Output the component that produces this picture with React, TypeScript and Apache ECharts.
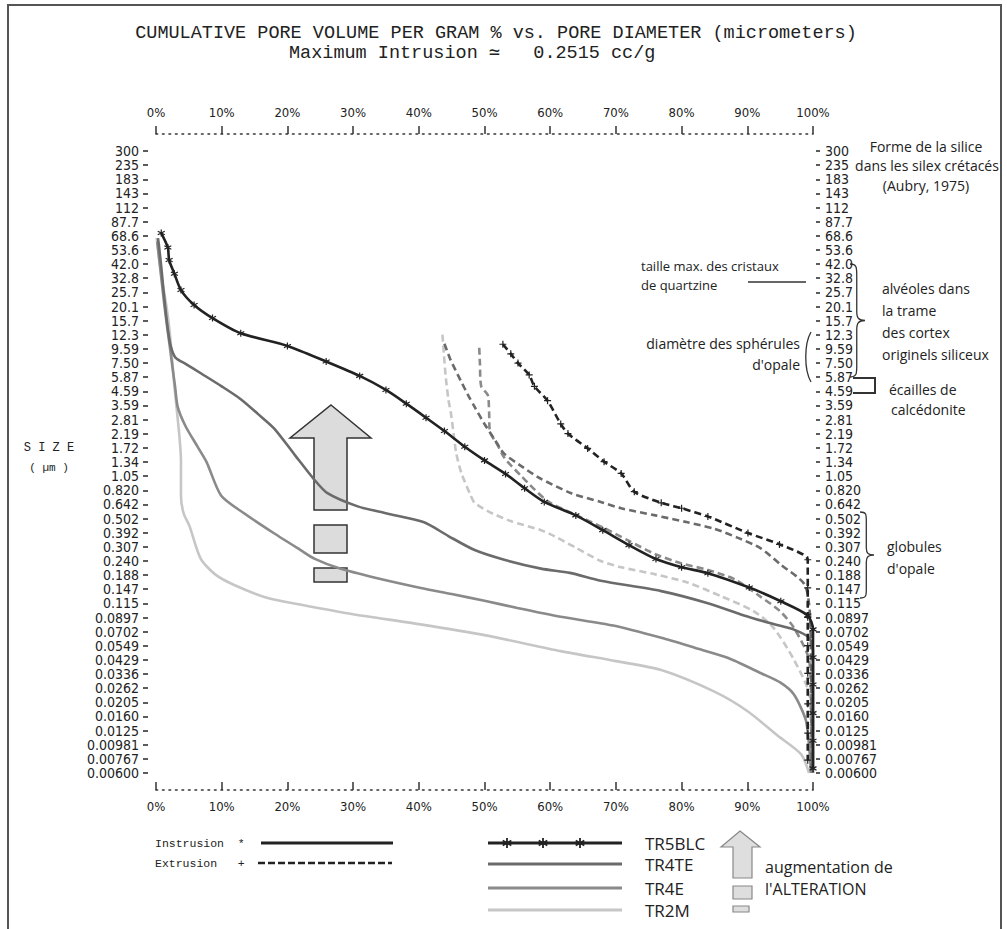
import React, { useEffect, useRef } from "react";
import * as echarts from "echarts";

// ---------- tick labels ----------
const SIZE_TICKS = ["300","235","183","143","112","87.7","68.6","53.6","42.0","32.8","25.7","20.1","15.7","12.3","9.59","7.50","5.87","4.59","3.59","2.81","2.19","1.72","1.34","1.05","0.820","0.642","0.502","0.392","0.307","0.240","0.188","0.147","0.115","0.0897","0.0702","0.0549","0.0429","0.0336","0.0262","0.0205","0.0160","0.0125","0.00981","0.00767","0.00600"];
const SIZE_MIN = 0.006;
const SIZE_MAX = 300;
const PCT_MIN = 0;
const PCT_MAX = 100;
const PCT_STEP = 10;

// ---------- series: [cumulative %, pore diameter µm] ----------
const TR5BLC_INTRUSION = [[0.8,72],[1.8,56],[2.0,45],[2.8,35.5],[3.8,26.7],[5.8,20.6],[8.6,16.4],[12.9,12.6],[20,10.1],[25.9,7.7],[31,6.0],[35,4.7],[38.1,3.7],[41.1,2.9],[43.9,2.3],[47,1.75],[50,1.38],[53.2,1.09],[56.1,0.85],[59.1,0.67],[63.9,0.53],[68,0.41],[72,0.316],[76.1,0.248],[80,0.215],[84,0.194],[90.3,0.151],[95.1,0.119],[99.2,0.093],[100,0.073],[100,0.045],[100,0.028],[100,0.017],[100,0.0105],[100,0.0065]];
const TR5BLC_EXTRUSION = [[52.8,10.4],[54,8.8],[55.1,7.5],[56.8,6.1],[57.6,5.0],[59.6,3.9],[61.6,2.6],[62.7,2.2],[65.7,1.7],[68.2,1.35],[70.8,1.1],[72.8,0.8],[76.9,0.66],[80,0.6],[84,0.52],[90.1,0.39],[94.9,0.32],[99.2,0.245],[99.2,0.15],[99.2,0.09],[99.2,0.055],[99.2,0.034],[99.2,0.02],[99.2,0.012],[99.2,0.0075]];
const TR4TE_INTRUSION = [[0.3,66],[0.5,55],[0.8,40],[1.1,28],[1.5,18],[1.9,12.5],[2.3,9.8],[3.0,8.2],[4.5,7.4],[7.0,6.2],[10,5.0],[12.9,4.0],[15.5,3.1],[18,2.4],[21.2,1.5],[24,1.0],[26.1,0.78],[30.7,0.62],[35,0.55],[40.8,0.47],[44.5,0.37],[48.5,0.29],[53,0.245],[58.6,0.21],[63,0.195],[67.7,0.17],[76.9,0.142],[84,0.115],[89.5,0.093],[94,0.08],[97.1,0.0727],[99.4,0.063],[100,0.05],[100,0.006]];
const TR4TE_EXTRUSION = [[43.9,10.5],[44.8,8],[46.4,5.5],[47.5,4.3],[48.5,3.5],[50,2.6],[51.5,2.0],[53,1.55],[55.6,1.25],[58.3,1.02],[63.2,0.78],[67.7,0.67],[70.8,0.6],[76,0.53],[80.9,0.47],[85,0.42],[88.5,0.36],[92,0.3],[95.1,0.225],[98.7,0.16],[99.5,0.1],[99.7,0.04],[99.8,0.015],[99.8,0.006]];
const TR4E_INTRUSION = [[0.2,62],[0.5,45],[0.9,30],[1.3,20],[1.7,14],[2.1,10],[2.5,7],[2.9,5],[3.3,3.5],[4.5,2.5],[6.3,1.76],[7.7,1.34],[9.9,0.75],[13.4,0.55],[17.9,0.39],[22,0.29],[24.1,0.25],[28,0.21],[33.2,0.18],[40.3,0.15],[45,0.135],[50,0.12],[55,0.106],[61.6,0.091],[69.6,0.078],[76.9,0.063],[82,0.053],[87,0.0445],[92.1,0.034],[95,0.029],[97.1,0.0235],[98.9,0.0151],[99.4,0.0097],[99.7,0.006]];
const TR4E_EXTRUSION = [[49.2,9.8],[49.3,7.5],[49.5,5.0],[50.5,4.3],[50.7,3.2],[50.8,2.3],[52,1.8],[53,1.45],[55.6,1.05],[59.6,0.68],[63.7,0.54],[68,0.43],[72,0.34],[76,0.27],[80,0.23],[84,0.205],[88,0.175],[92.1,0.128],[95,0.1],[97.1,0.075],[99.4,0.043],[99.7,0.02],[99.8,0.006]];
const TR2M_INTRUSION = [[0.1,66],[0.5,45],[1.0,30],[1.6,20],[2.0,14],[2.3,10],[2.6,6.5],[2.8,5],[3.2,3.2],[3.6,2.0],[3.8,1.38],[3.8,0.75],[4.2,0.55],[5.1,0.44],[6.8,0.25],[9,0.19],[11.9,0.158],[17,0.126],[22.1,0.112],[30,0.095],[40,0.08],[50,0.066],[61.6,0.05],[70,0.042],[76.9,0.036],[85,0.0247],[90.1,0.0175],[94.6,0.0115],[98.2,0.0083],[99.4,0.006]];
const TR2M_EXTRUSION = [[43.6,12.3],[43.8,9],[44.1,5.9],[44.5,4],[44.9,3.1],[45.3,2.2],[45.7,1.56],[46.5,1.1],[47.9,0.75],[48.5,0.66],[50.5,0.57],[54,0.48],[58.6,0.41],[60.6,0.37],[64,0.3],[67.7,0.24],[70.8,0.215],[76,0.19],[80.9,0.165],[86,0.13],[91,0.1],[94,0.075],[97.1,0.043],[99.4,0.024],[99.7,0.012],[99.8,0.006]];

const SAMPLES = ["TR5BLC", "TR4TE", "TR4E", "TR2M"];
const SAMPLE_COLORS = ["#222222", "#6b6b6b", "#8a8a8a", "#c6c6c6"];

const NARROW = '"Liberation Sans Narrow", "Arial Narrow", "DejaVu Sans Condensed", sans-serif';
const MONO = '"Liberation Mono", "DejaVu Sans Mono", monospace';
const HAND = '"Open Sans", "Noto Sans", sans-serif';

const N = SIZE_TICKS.length - 1;
const toY = (d: number) => (Math.log(d / SIZE_MIN) / Math.log(SIZE_MAX / SIZE_MIN)) * N;
const conv = (arr: number[][]) => arr.map(([p, d]) => [p, toY(d)]);

const STAR = "path://M5,0L5,10M0.67,2.5L9.33,7.5M0.67,7.5L9.33,2.5";
const PLUS = "path://M4,0L4,8M0,4L8,4";

function bracePath(h: number, w: number) {
  const m = w * 0.45;
  return `M0,0 C${m},0 ${m},${h * 0.03} ${m},${h * 0.1} L${m},${h * 0.42} C${m},${h * 0.48} ${m + 2},${h * 0.5} ${w},${h * 0.5} C${m + 2},${h * 0.5} ${m},${h * 0.52} ${m},${h * 0.58} L${m},${h * 0.9} C${m},${h * 0.97} ${m},${h} 0,${h}`;
}
echarts.graphic.registerShape("braceAlv", echarts.graphic.extendPath(bracePath(113, 15), {}));
echarts.graphic.registerShape("braceGlob", echarts.graphic.extendPath(bracePath(86, 14), {}));
echarts.graphic.registerShape("parenSph", echarts.graphic.extendPath("M8,0 C1,12 1,38 8,50", {}));
echarts.graphic.registerShape("asterisk", echarts.graphic.extendPath("M0,-5L0,5M-4.3,-2.5L4.3,2.5M-4.3,2.5L4.3,-2.5", {}));

function App() {
  const ref = useRef<HTMLDivElement>(null);
  useEffect(() => {
    if (!ref.current) return;
    const chart = echarts.init(ref.current, undefined, { renderer: "svg" });

    const line = (name: string, data: number[][], color: string, dashed: boolean, symbol?: string, z = 2) => ({
      name,
      type: "line",
      data: conv(data),
      smooth: 0.25,
      z,
      showSymbol: !!symbol,
      symbol: symbol || "none",
      symbolSize: 7,
      itemStyle: { color: color, borderColor: color, borderWidth: 1.2 },
      lineStyle: { color, width: 2.6, type: dashed ? [7, 4] : "solid" },
      emphasis: { disabled: true },
    });

    const txt = (text: string, x: number, y: number, size: number, font: string, align = "left", color = "#222") => ({
      type: "text",
      x,
      y,
      style: { text, fontSize: size, fontFamily: font, fill: color, align, verticalAlign: "middle" },
    });

    const axisLabelStyle = { fontFamily: NARROW, fontSize: 13, color: "#222" };
    const dotted = { color: "#333", width: 1.6, type: [1.6, 4.9] };

    const option: any = {
      animation: false,
      backgroundColor: "#ffffff",
      grid: { left: 156, top: 151, width: 657, height: 622 },
      xAxis: [
        {
          type: "value", position: "bottom", offset: 17, min: PCT_MIN, max: PCT_MAX, interval: PCT_STEP,
          axisLine: { show: true, onZero: false, lineStyle: dotted },
          axisTick: { show: true, inside: true, length: 8, lineStyle: { color: "#333", width: 1.5 } },
          axisLabel: { ...axisLabelStyle, margin: 10, formatter: (v: number) => v + "%" },
          splitLine: { show: false },
        },
        {
          type: "value", position: "top", offset: 17, min: PCT_MIN, max: PCT_MAX, interval: PCT_STEP,
          axisLine: { show: true, onZero: false, lineStyle: dotted },
          axisTick: { show: true, inside: false, length: 8, lineStyle: { color: "#333", width: 1.5 } },
          axisLabel: { ...axisLabelStyle, margin: 15, formatter: (v: number) => v + "%" },
          splitLine: { show: false },
        },
      ],
      yAxis: [
        {
          type: "value", position: "left", offset: 8, min: 0, max: N, interval: 1,
          axisLine: { show: false, onZero: false },
          axisTick: { show: true, length: 5, lineStyle: { color: "#333", width: 1.6 } },
          axisLabel: { fontFamily: NARROW, fontSize: 14, color: "#222", margin: 9, formatter: (v: number) => SIZE_TICKS[N - Math.round(v)] },
          splitLine: { show: false },
        },
        {
          type: "value", position: "right", offset: 3, min: 0, max: N, interval: 1,
          axisLine: { show: false, onZero: false },
          axisTick: { show: true, length: 4, lineStyle: { color: "#333", width: 1.6 } },
          axisLabel: { fontFamily: NARROW, fontSize: 14, color: "#222", margin: 9, formatter: (v: number) => SIZE_TICKS[N - Math.round(v)] },
          splitLine: { show: false },
        },
      ],
      series: [
        line("TR2M intrusion", TR2M_INTRUSION, SAMPLE_COLORS[3], false, undefined, 2),
        line("TR2M extrusion", TR2M_EXTRUSION, SAMPLE_COLORS[3], true, undefined, 2),
        line("TR4E intrusion", TR4E_INTRUSION, SAMPLE_COLORS[2], false, undefined, 3),
        line("TR4E extrusion", TR4E_EXTRUSION, SAMPLE_COLORS[2], true, undefined, 3),
        line("TR4TE intrusion", TR4TE_INTRUSION, SAMPLE_COLORS[1], false, undefined, 4),
        line("TR4TE extrusion", TR4TE_EXTRUSION, SAMPLE_COLORS[1], true, undefined, 4),
        line("TR5BLC intrusion", TR5BLC_INTRUSION, SAMPLE_COLORS[0], false, STAR, 5),
        line("TR5BLC extrusion", TR5BLC_EXTRUSION, SAMPLE_COLORS[0], true, PLUS, 5),
      ],
      graphic: [
        // frame
        { type: "rect", shape: { x: 8, y: 5, width: 993, height: 940 }, style: { fill: "none", stroke: "#555", lineWidth: 2 } },
        // title
        txt("CUMULATIVE PORE VOLUME PER GRAM % vs. PORE DIAMETER (micrometers)", 496, 33, 18.5, MONO, "center"),
        txt("Maximum Intrusion \u2243   0.2515 cc/g", 289, 53, 18.5, MONO, "left"),
        // left axis name
        txt("S I Z E", 49, 448, 12, MONO, "center"),
        txt("( \u00b5m )", 49, 468, 11, MONO, "center"),
        // arrow in plot
        { type: "polygon", shape: { points: [[331, 405], [371, 438], [347, 438], [347, 510], [314, 510], [314, 438], [290, 438]] }, style: { fill: "#dcdcdc", stroke: "#333", lineWidth: 1.5 } },
        { type: "rect", shape: { x: 314, y: 525, width: 33, height: 28 }, style: { fill: "#dcdcdc", stroke: "#333", lineWidth: 1.5 } },
        { type: "rect", shape: { x: 314, y: 568, width: 33, height: 14 }, style: { fill: "#dcdcdc", stroke: "#333", lineWidth: 1.5 } },
        // right annotations
        txt("Forme de la silice", 926, 146, 14, HAND, "center"),
        txt("dans les silex cr\u00e9tac\u00e9s", 927, 165, 14, HAND, "center"),
        txt("(Aubry, 1975)", 926, 185, 14, HAND, "center"),
        txt("taille max. des cristaux", 641, 266, 13, HAND, "left"),
        txt("de quartzine", 641, 285, 13, HAND, "left"),
        { type: "line", shape: { x1: 748, y1: 282, x2: 806, y2: 282 }, style: { stroke: "#333", lineWidth: 1.5 } },
        { type: "braceAlv", x: 850, y: 264, style: { fill: "none", stroke: "#333", lineWidth: 1.3 } },
        txt("alv\u00e9oles dans", 882, 288, 14, HAND, "left"),
        txt("la trame", 882, 310, 14, HAND, "left"),
        txt("des cortex", 882, 332, 14, HAND, "left"),
        txt("originels siliceux", 882, 354, 14, HAND, "left"),
        txt("diam\u00e8tre des sph\u00e9rules", 800, 343, 14, HAND, "right"),
        txt("d'opale", 800, 364, 14, HAND, "right"),
        { type: "parenSph", x: 803, y: 332, style: { fill: "none", stroke: "#333", lineWidth: 1.3 } },
        { type: "polyline", shape: { points: [[853, 378], [875, 378], [875, 393], [853, 393]] }, style: { fill: "none", stroke: "#333", lineWidth: 2 } },
        txt("\u00e9cailles de", 889, 389, 14, HAND, "left"),
        txt("calc\u00e9donite", 891, 409, 14, HAND, "left"),
        { type: "braceGlob", x: 860, y: 512, style: { fill: "none", stroke: "#333", lineWidth: 1.3 } },
        txt("globules", 887, 546, 14, HAND, "left"),
        txt("d'opale", 887, 568, 14, HAND, "left"),
        // legend: intrusion / extrusion
        txt("Instrusion  *", 155, 843, 11.5, MONO, "left"),
        txt("Extrusion   +", 155, 863, 11.5, MONO, "left"),
        { type: "line", shape: { x1: 261, y1: 843, x2: 393, y2: 843 }, style: { stroke: "#222", lineWidth: 3 } },
        { type: "line", shape: { x1: 258, y1: 863, x2: 392, y2: 863 }, style: { stroke: "#222", lineWidth: 2.6, lineDash: [7, 3] } },
        // legend: samples
        { type: "line", shape: { x1: 488, y1: 843, x2: 622, y2: 843 }, style: { stroke: SAMPLE_COLORS[0], lineWidth: 3 } },
        { type: "asterisk", x: 507, y: 843, style: { fill: "none", stroke: "#222", lineWidth: 1.8 } },
        { type: "asterisk", x: 543, y: 843, style: { fill: "none", stroke: "#222", lineWidth: 1.8 } },
        { type: "asterisk", x: 580, y: 843, style: { fill: "none", stroke: "#222", lineWidth: 1.8 } },
        { type: "line", shape: { x1: 488, y1: 864, x2: 622, y2: 864 }, style: { stroke: SAMPLE_COLORS[1], lineWidth: 3 } },
        { type: "line", shape: { x1: 488, y1: 888, x2: 622, y2: 888 }, style: { stroke: SAMPLE_COLORS[2], lineWidth: 3 } },
        { type: "line", shape: { x1: 488, y1: 910, x2: 622, y2: 910 }, style: { stroke: SAMPLE_COLORS[3], lineWidth: 3 } },
        txt(SAMPLES[0], 645, 843, 17, HAND, "left"),
        txt(SAMPLES[1], 645, 864, 17, HAND, "left"),
        txt(SAMPLES[2], 645, 888, 17, HAND, "left"),
        txt(SAMPLES[3], 645, 910, 17, HAND, "left"),
        // legend arrow
        { type: "polygon", shape: { points: [[740, 831], [760, 847], [752, 847], [752, 878], [733, 878], [733, 847], [721, 847]] }, style: { fill: "#dedede", stroke: "#888", lineWidth: 1.2 } },
        { type: "rect", shape: { x: 733, y: 886, width: 19, height: 13 }, style: { fill: "#dedede", stroke: "#888", lineWidth: 1.2 } },
        { type: "rect", shape: { x: 733, y: 906, width: 16, height: 6 }, style: { fill: "#dedede", stroke: "#888", lineWidth: 1.2 } },
        txt("augmentation de", 765, 867, 16, HAND, "left"),
        txt("l'ALTERATION", 765, 889, 16, HAND, "left"),
      ],
    };
    chart.setOption(option);
    return () => chart.dispose();
  }, []);
  return <div ref={ref} style={{ position: "fixed", left: 0, top: 0, width: 1007, height: 929, background: "#fff" }} />;
}

export default App;
